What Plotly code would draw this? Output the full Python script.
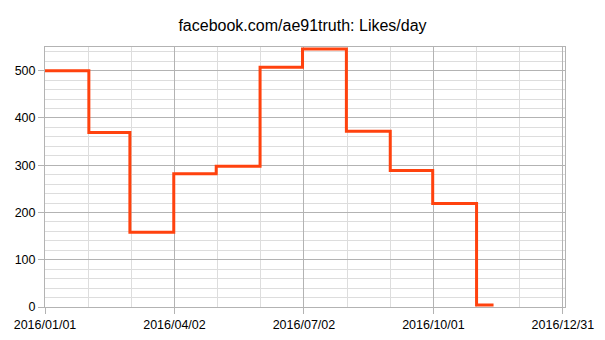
import plotly.graph_objects as go
import pandas as pd

# Data (monthly step values, likes/day)
dates = ["2016-01-01", "2016-02-01", "2016-03-01", "2016-04-01", "2016-05-01",
         "2016-06-01", "2016-07-01", "2016-08-01", "2016-09-01", "2016-10-01",
         "2016-11-01", "2016-11-13"]
likes = [500, 369, 158, 282, 298, 507, 546, 372, 289, 219, 4, 4]

tick_labels = ["2016/01/01", "2016/04/02", "2016/07/02", "2016/10/01", "2016/12/31"]

start = pd.Timestamp("2016-01-01")
major_step = pd.Timedelta(days=91.5)
tick_vals = [start + i * major_step for i in range(5)]
minor_vals = [start + i * major_step / 3 for i in range(13)]
x_end = start + pd.Timedelta(days=367.5)

fig = go.Figure()
fig.add_trace(go.Scatter(
    x=dates, y=likes, mode="lines",
    line=dict(shape="hv", color="#ff420e", width=3),
    showlegend=False,
))

font = "Liberation Sans, Arial, sans-serif"
fig.update_layout(
    width=605, height=340,
    margin=dict(l=45, r=40, t=47, b=33, autoexpand=False),
    paper_bgcolor="white", plot_bgcolor="white",
    title=dict(text="facebook.com/ae91truth: Likes/day", x=0.5, xanchor="center",
               y=1 - 25 / 340, yanchor="middle", yref="container",
               font=dict(family=font, size=16, color="#000")),
    font=dict(family=font, size=12.5, color="#000"),
)

fig.update_xaxes(
    type="date", range=[start, x_end], automargin=False,
    tickvals=tick_vals, ticktext=tick_labels,
    showgrid=True, gridcolor="#b3b3b3", gridwidth=1,
    minor=dict(tickvals=minor_vals, showgrid=True, gridcolor="#dddddd", gridwidth=1),
    showline=True, linecolor="#b3b3b3", linewidth=1, mirror=True,
    ticks="outside", ticklen=6, tickcolor="#b3b3b3",
    zeroline=False,
    tickfont=dict(family=font, size=12.5, color="#000"),
)
fig.update_yaxes(
    range=[0, 550], automargin=False,
    tickvals=[0, 100, 200, 300, 400, 500],
    showgrid=True, gridcolor="#b3b3b3", gridwidth=1,
    minor=dict(dtick=20, showgrid=True, gridcolor="#dddddd", gridwidth=1),
    showline=True, linecolor="#b3b3b3", linewidth=1, mirror=True,
    ticks="outside", ticklen=6, tickcolor="#b3b3b3",
    zeroline=False,
    tickfont=dict(family=font, size=12.5, color="#000"),
)

fig.write_html("out.html")
